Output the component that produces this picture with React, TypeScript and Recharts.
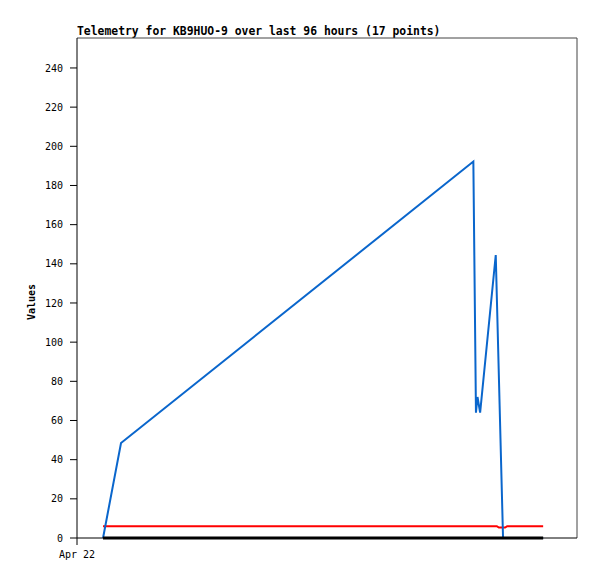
import { LineChart, Line, XAxis, YAxis, ReferenceLine } from 'recharts';

// hours since Apr 22 00:00, and readings
const blueHours = [5.0, 8.45, 76.1, 76.6, 76.9, 77.4, 80.4, 81.8, 89.5];
const blueValues = [0, 48.5, 192.2, 64, 72, 64, 144.5, 0, 0];

const redHours = [5.0, 80.6, 81.0, 82.2, 82.6, 89.5];
const redValues = [6.0, 6.0, 5.3, 5.3, 6.0, 6.0];

const blackHours = [5.0, 89.5];
const blackValues = [0, 0];

const yTicks = [0, 20, 40, 60, 80, 100, 120, 140, 160, 180, 200, 220, 240];
const xTicks = [0];
const xTickLabels = ['Apr 22'];

const Y_MAX = 255.3;
const X_MAX = 96;

const toRows = (hours: number[], values: number[]) =>
  hours.map((t, i) => ({ t, v: values[i] }));

const blueData = toRows(blueHours, blueValues);
const redData = toRows(redHours, redValues);
const blackData = toRows(blackHours, blackValues);

const mono = '"DejaVu Sans Mono", "Liberation Mono", monospace';

const App = () => {
  return (
    <div style={{ position: 'absolute', left: 0, top: 0, width: 597, height: 579, background: '#fff' }}>
      <div
        style={{
          position: 'absolute',
          left: 77,
          top: 24,
          fontFamily: mono,
          fontWeight: 'bold',
          fontSize: 11.4,
          color: '#000',
          whiteSpace: 'nowrap',
        }}
      >
        Telemetry for KB9HUO-9 over last 96 hours (17 points)
      </div>
      <div
        style={{
          position: 'absolute',
          left: 31,
          top: 302,
          transform: 'translate(-50%, -50%) rotate(-90deg)',
          fontFamily: mono,
          fontWeight: 'bold',
          fontSize: 10,
          color: '#000',
          whiteSpace: 'nowrap',
        }}
      >
        Values
      </div>
      <LineChart
        width={597}
        height={579}
        margin={{ top: 38, right: 20, bottom: 11, left: 17 }}
      >
        <XAxis
          type="number"
          dataKey="t"
          domain={[0, X_MAX]}
          ticks={xTicks}
          tickFormatter={(v) => xTickLabels[xTicks.indexOf(v)] ?? ''}
          height={30}
          stroke="#000"
          tickSize={7}
          tickMargin={6}
          tick={{ fill: '#000', fontSize: 10, fontFamily: mono }}
        />
        <YAxis
          type="number"
          domain={[0, Y_MAX]}
          ticks={yTicks}
          width={60}
          stroke="#000"
          tickSize={7}
          tickMargin={7}
          tick={{ fill: '#000', fontSize: 10, fontFamily: mono }}
        />
        <ReferenceLine y={Y_MAX} stroke="#444" strokeWidth={1} />
        <ReferenceLine x={X_MAX} stroke="#444" strokeWidth={1} />
        <Line
          data={redData}
          dataKey="v"
          stroke="#ff0000"
          strokeWidth={2}
          dot={false}
          type="linear"
          isAnimationActive={false}
        />
        <Line
          data={blueData}
          dataKey="v"
          stroke="#0a66cc"
          strokeWidth={2}
          dot={false}
          type="linear"
          isAnimationActive={false}
        />
        <Line
          data={blackData}
          dataKey="v"
          stroke="#000"
          strokeWidth={3}
          dot={false}
          type="linear"
          isAnimationActive={false}
        />
      </LineChart>
    </div>
  );
};

export default App;
